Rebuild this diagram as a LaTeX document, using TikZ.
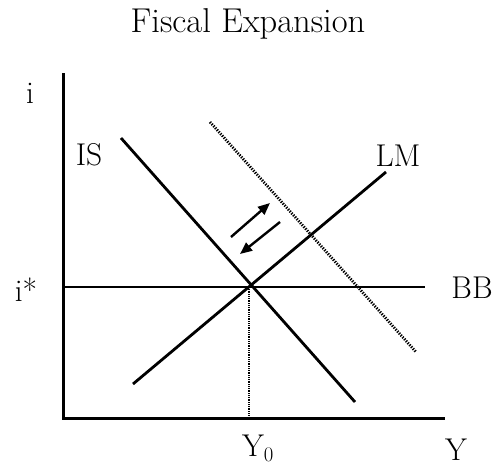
\documentclass[tikz,border=0pt]{standalone}
\usetikzlibrary{arrows.meta}
\begin{document}
\begin{tikzpicture}[x=1pt,y=-1pt,
  lbl/.style={inner sep=0pt,font=\fontsize{31.5}{33}\selectfont},
  axisline/.style={line width=3pt},
  curve/.style={line width=2.8pt},
  dotline/.style={line width=2.8pt,dash pattern=on 1.3pt off 1.3pt},
  thindot/.style={line width=1.5pt,dash pattern=on 1pt off 0.8pt},
  movearrow/.style={line width=2.4pt,-{Triangle[length=12pt,width=10pt]}}]
\useasboundingbox (0,0) rectangle (495,466);
% title
\node[lbl,font=\fontsize{34.5}{36}\selectfont] (title) at (248,24) {Fiscal Expansion};
% axes
\coordinate (top) at (63,73);
\coordinate (origin) at (63,418);
\coordinate (right) at (445,418);
\draw[axisline] (top) -- (origin) -- (right);
% labels
\node[lbl] (ilab) at (30,93) {i};
\node[lbl] (istar) at (26,290) {i*};
\node[lbl] (islab) at (89,155) {IS};
\node[lbl] (lmlab) at (398,156) {LM};
\node[lbl] (bblab) at (472,288) {BB};
\node[lbl] (y0lab) at (258,448) {Y$_0$};
\node[lbl] (ylab) at (456,450) {Y};
% curves
\coordinate (is1) at (121,138);
\coordinate (is2) at (355,402);
\coordinate (lm1) at (133,384);
\coordinate (lm2) at (386,172);
\coordinate (bb1) at (63,287);
\coordinate (bb2) at (425,287);
\coordinate (d1) at (210,122);
\coordinate (d2) at (416,352);
\coordinate (eq) at (249,287);
\coordinate (eqb) at (249,418);
\draw[curve] (is1) -- (is2);
\draw[curve] (lm1) -- (lm2);
\draw[axisline,line width=2.8pt] (bb1) -- (bb2);
\draw[dotline] (d1) -- (d2);
\draw[thindot] (eq) -- (eqb);
% arrows
\coordinate (a1s) at (231,237);
\coordinate (a1e) at (270,203);
\coordinate (a2s) at (280,222);
\coordinate (a2e) at (240,254);
\draw[movearrow] (a1s) -- (a1e);
\draw[movearrow] (a2s) -- (a2e);
\end{tikzpicture}
\end{document}
